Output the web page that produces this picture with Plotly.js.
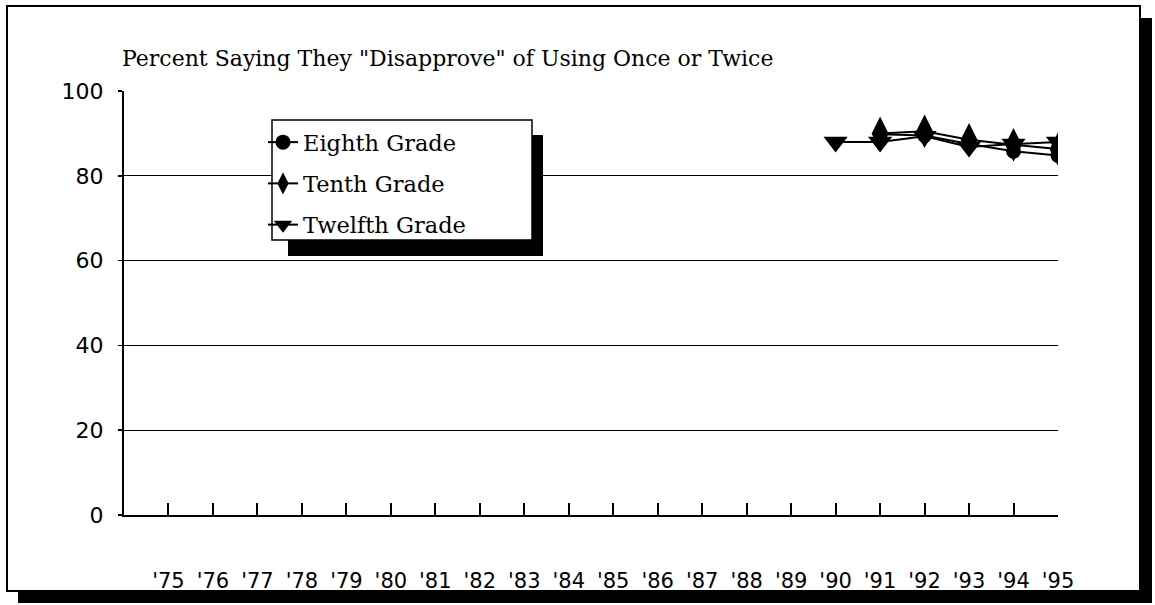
<!DOCTYPE html>
<html>
<head>
<meta charset="utf-8">
<script src="https://cdn.plot.ly/plotly-3.0.1.min.js"></script>
<style>html,body{margin:0;padding:0;background:#fff;}#chart{width:1155px;height:605px;}</style>
</head>
<body>
<div id="chart"></div>
<script>
// ---- data ----
const tickYears = [1975,1976,1977,1978,1979,1980,1981,1982,1983,1984,1985,1986,1987,1988,1989,1990,1991,1992,1993,1994,1995];
const tickLabels = ["'75","'76","'77","'78","'79","'80","'81","'82","'83","'84","'85","'86","'87","'88","'89","'90","'91","'92","'93","'94","'95"];
const eighthYears = [1991,1992,1993,1994,1995];
const eighthValues = [89.8,89.5,87.5,85.8,84.8];
const tenthYears = [1991,1992,1993,1994,1995];
const tenthValues = [90.0,90.5,88.5,87.3,86.3];
const twelfthYears = [1990,1991,1992,1993,1994,1995];
const twelfthValues = [88.0,88.0,89.3,86.8,87.5,88.0];
const seriesNames = ["Eighth Grade","Tenth Grade","Twelfth Grade"];
const titleText = 'Percent Saying They "Disapprove" of Using Once or Twice';

// ---- layout helpers (pixel -> paper) ----
const L = 124, R = 97, T = 91, B = 90, W = 1155, H = 605;
const pw = W - L - R, ph = H - T - B;
const px = X => (X - L) / pw;
const py = Y => (H - B - Y) / ph;

const line = {color:'#000', width:2};
const traces = [
  {x:eighthYears, y:eighthValues, name:seriesNames[0], mode:'lines+markers', line:line,
   marker:{symbol:'circle', size:15, color:'#000'}, legendgroup:'a'},
  {x:tenthYears, y:tenthValues, name:seriesNames[1], mode:'lines+markers', line:line,
   marker:{symbol:'diamond-tall', size:24, color:'#000'}, legendgroup:'b'},
  {x:twelfthYears, y:twelfthValues, name:seriesNames[2], mode:'lines+markers', line:line,
   marker:{symbol:'triangle-down', size:21, color:'#000'}, legendgroup:'c'}
];

const layout = {
  width:W, height:H,
  margin:{l:L, r:R, t:T, b:B, pad:0},
  paper_bgcolor:'#fff', plot_bgcolor:'rgba(0,0,0,0)',
  showlegend:true,
  title:{text:titleText, xref:'container', x:122/W, xanchor:'left', yref:'container', y:1-58/H, yanchor:'middle',
         font:{family:'DejaVu Serif', size:22, color:'#000'}},
  xaxis:{range:[1974,1995], tickvals:tickYears, ticktext:tickLabels, showgrid:false, zeroline:false,
         showline:true, linecolor:'#000', linewidth:2, ticks:'inside', ticklen:12, tickwidth:2, tickcolor:'#000',
         ticklabelstandoff:46, tickfont:{family:'DejaVu Sans', size:21, color:'#000'}, fixedrange:true},
  yaxis:{range:[0,100], tickvals:[0,20,40,60,80,100], showgrid:true, gridcolor:'#000', gridwidth:1, zeroline:false,
         showline:true, linecolor:'#000', linewidth:2, ticks:'outside', ticklen:4, tickwidth:1.5, tickcolor:'#000',
         ticklabelstandoff:10, tickfont:{family:'DejaVu Sans', size:22, color:'#000'}, fixedrange:true},
  legend:{x:px(263), y:py(121), xanchor:'left', yanchor:'top', bgcolor:'rgba(0,0,0,0)', borderwidth:0,
          font:{family:'DejaVu Serif', size:22.5, color:'#000'}, tracegroupgap:9, traceorder:'grouped'},
  shapes:[
    // outer frame shadow + frame
    {type:'rect', xref:'paper', yref:'paper', x0:px(18), x1:px(1152), y0:py(603), y1:py(18), fillcolor:'#000', line:{width:0}, layer:'below'},
    {type:'rect', xref:'paper', yref:'paper', x0:px(7), x1:px(1140), y0:py(591), y1:py(6), fillcolor:'#fff', line:{color:'#000', width:2}, layer:'below'},
    // legend shadow + box
    {type:'rect', xref:'paper', yref:'paper', x0:px(288), x1:px(543), y0:py(256), y1:py(135), fillcolor:'#000', line:{width:0}, layer:'above'},
    {type:'rect', xref:'paper', yref:'paper', x0:px(272), x1:px(532), y0:py(240), y1:py(120), fillcolor:'#fff', line:{color:'#000', width:1.5}, layer:'above'}
  ]
};

Plotly.newPlot('chart', traces, layout, {displayModeBar:false, staticPlot:true});
</script>
</body>
</html>
